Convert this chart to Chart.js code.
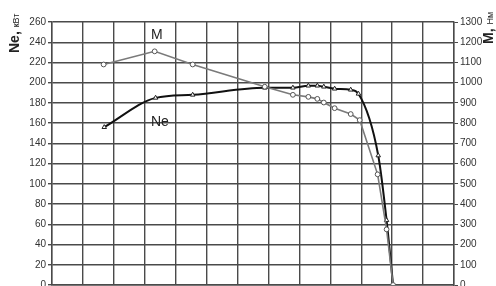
<!DOCTYPE html>
<html>
<head>
<meta charset="utf-8">
<script src="https://cdn.jsdelivr.net/npm/chart.js@4"></script>
<style>
  html, body { margin: 0; padding: 0; background: #fff; overflow: hidden; }
  #wrap { width: 496px; height: 286px; overflow: hidden; }
</style>
</head>
<body>
<div id="wrap"><canvas id="chart" width="496" height="293"></canvas></div>
<script>
// x in grid divisions (x-axis labels are cut off in the picture)
const speedM = [1.67, 3.32, 4.55, 6.88, 7.79, 8.29, 8.58, 8.79, 9.14, 9.66, 9.95, 10.53, 10.82, 11.03];
const torque = [1090, 1155, 1090, 980, 940, 930, 920, 902, 874, 845, 815, 547, 275, 0];

const speedNe = [1.69, 3.35, 4.55, 6.88, 7.79, 8.29, 8.58, 8.79, 9.14, 9.66, 9.91, 10.55, 10.82, 11.03];
const power = [156, 185, 188, 195, 195, 197, 197, 196, 194, 193, 189, 128, 64, 0];

const neTicks = [0, 20, 40, 60, 80, 100, 120, 140, 160, 180, 200, 220, 240, 260];
const mTicks = [0, 100, 200, 300, 400, 500, 600, 700, 800, 900, 1000, 1100, 1200, 1300];

const gridColor = "#4a4a4a";
const tickFont = { family: "Liberation Sans, Arial, sans-serif", size: 10 };

// подписи осей и кривых
const labelsPlugin = {
  id: "labels",
  afterDraw(chart) {
    const ctx = chart.ctx;
    const x = chart.scales.x;
    const y = chart.scales.y;
    ctx.save();
    ctx.fillStyle = "#222";

    // Ne, кВт (left)
    ctx.save();
    ctx.translate(19, 53);
    ctx.rotate(-Math.PI / 2);
    ctx.font = "bold 14px Liberation Sans, Arial, sans-serif";
    ctx.fillText("Ne,", 0, 0);
    const w1 = ctx.measureText("Ne, ").width;
    ctx.font = "9px Liberation Sans, Arial, sans-serif";
    ctx.fillText("кВт", w1, 0);
    ctx.restore();

    // M, Нм (right)
    ctx.save();
    ctx.translate(493, 44);
    ctx.rotate(-Math.PI / 2);
    ctx.font = "bold 14px Liberation Sans, Arial, sans-serif";
    ctx.fillText("M,", 0, 0);
    const w2 = ctx.measureText("M, ").width;
    ctx.font = "9px Liberation Sans, Arial, sans-serif";
    ctx.fillText("Нм", w2, 0);
    ctx.restore();

    // curve names
    ctx.font = "14px Liberation Sans, Arial, sans-serif";
    ctx.textAlign = "left";
    ctx.fillText("M", x.getPixelForValue(3.2), y.getPixelForValue(243));
    ctx.fillText("Ne", x.getPixelForValue(3.2), y.getPixelForValue(157));
    ctx.restore();
  }
};

new Chart(document.getElementById("chart"), {
  type: "line",
  data: {
    datasets: [
      {
        label: "M",
        data: speedM.map((s, i) => ({ x: s, y: torque[i] })),
        yAxisID: "y2",
        borderColor: "#7a7a7a",
        borderWidth: 1.6,
        pointStyle: "circle",
        pointRadius: 2.4,
        pointBackgroundColor: "#fff",
        pointBorderColor: "#555",
        pointBorderWidth: 1,
        tension: 0
      },
      {
        label: "Ne",
        data: speedNe.map((s, i) => ({ x: s, y: power[i] })),
        yAxisID: "y",
        borderColor: "#111",
        borderWidth: 2,
        pointStyle: "triangle",
        pointRadius: 2.6,
        pointBackgroundColor: "#fff",
        pointBorderColor: "#222",
        pointBorderWidth: 1,
        cubicInterpolationMode: "monotone"
      }
    ]
  },
  options: {
    responsive: false,
    animation: false,
    layout: { padding: { top: 22, left: 0, right: 0, bottom: 0 } },
    plugins: { legend: { display: false }, tooltip: { enabled: false } },
    scales: {
      x: {
        type: "linear",
        min: 0,
        max: 13,
        ticks: { display: false, stepSize: 1 },
        grid: { color: gridColor, lineWidth: 1.4, drawTicks: false },
        border: { color: gridColor, width: 1.4 },
        afterFit(s) { s.height = 1; }
      },
      y: {
        position: "left",
        min: 0,
        max: 260,
        afterBuildTicks(s) { s.ticks = neTicks.map((v) => ({ value: v })); },
        ticks: { color: "#333", font: tickFont, padding: 2, callback: (v) => String(v) },
        grid: { color: gridColor, lineWidth: 1.4, tickLength: 4 },
        border: { color: gridColor, width: 1.4 },
        afterFit(s) { s.width = 52; }
      },
      y2: {
        position: "right",
        min: 0,
        max: 1300,
        afterBuildTicks(s) { s.ticks = mTicks.map((v) => ({ value: v })); },
        ticks: { color: "#333", font: tickFont, padding: 2, callback: (v) => String(v) },
        grid: { drawOnChartArea: false, color: gridColor, lineWidth: 1, tickLength: 4 },
        border: { color: gridColor, width: 1.4 },
        afterFit(s) { s.width = 42; }
      }
    }
  },
  plugins: [labelsPlugin]
});
</script>
</body>
</html>
